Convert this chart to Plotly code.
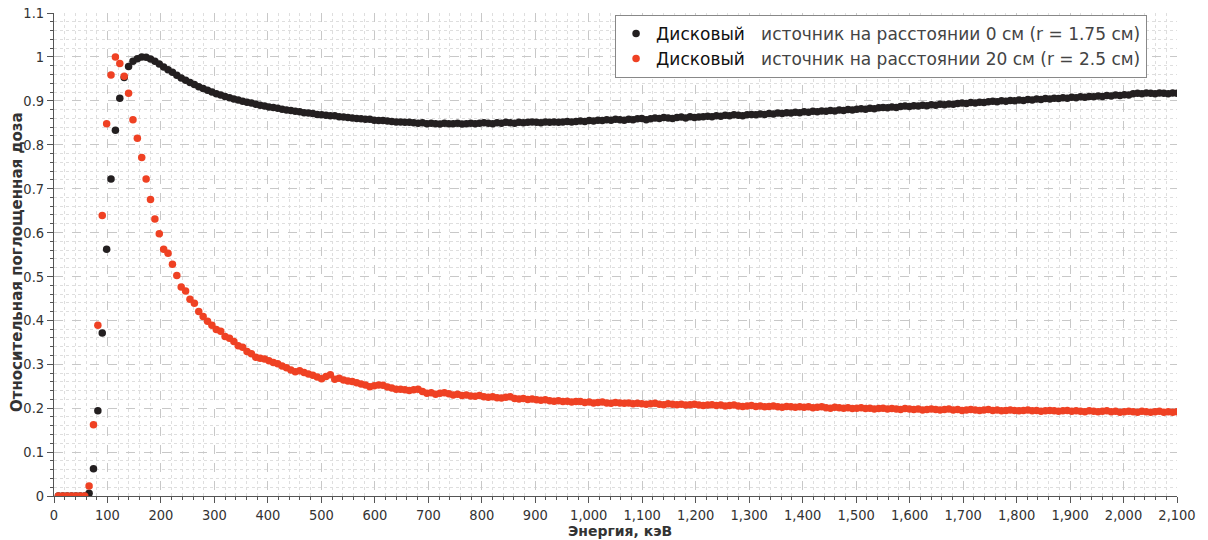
import plotly.graph_objects as go

# Channel grid: 256 channels spanning 0-2100 keV
n_channels = 256
channel_width_kev = 2100 / n_channels
energies_kev = [(i + 1) * channel_width_kev for i in range(n_channels)]

# Disk source at 0 cm (r = 1.75 cm)
dose_0cm = [
    0, 0, 0, 0, 0, 0, 0, 0.006, 0.062, 0.194,
    0.371, 0.562, 0.722, 0.833, 0.906, 0.953, 0.978, 0.990, 0.996, 1.000,
    0.999, 0.995, 0.990, 0.984, 0.977, 0.971, 0.965, 0.958, 0.952, 0.947,
    0.942, 0.937, 0.932, 0.928, 0.924, 0.920, 0.916, 0.913, 0.910, 0.907,
    0.904, 0.902, 0.899, 0.897, 0.895, 0.892, 0.890, 0.888, 0.886, 0.885,
    0.883, 0.881, 0.879, 0.878, 0.876, 0.875, 0.873, 0.872, 0.871, 0.869,
    0.868, 0.867, 0.866, 0.866, 0.864, 0.863, 0.862, 0.861, 0.860, 0.859,
    0.858, 0.858, 0.856, 0.855, 0.855, 0.854, 0.853, 0.852, 0.852, 0.851,
    0.851, 0.850, 0.849, 0.850, 0.848, 0.849, 0.848, 0.847, 0.849, 0.848,
    0.848, 0.849, 0.847, 0.848, 0.849, 0.848, 0.849, 0.850, 0.849, 0.848,
    0.850, 0.849, 0.851, 0.850, 0.849, 0.851, 0.850, 0.851, 0.852, 0.851,
    0.850, 0.852, 0.851, 0.852, 0.851, 0.852, 0.853, 0.852, 0.853, 0.854,
    0.853, 0.855, 0.854, 0.856, 0.855, 0.857, 0.856, 0.858, 0.857, 0.856,
    0.858, 0.857, 0.859, 0.860, 0.857, 0.859, 0.861, 0.860, 0.862, 0.861,
    0.860, 0.862, 0.863, 0.861, 0.864, 0.862, 0.863, 0.864, 0.865, 0.864,
    0.866, 0.865, 0.867, 0.866, 0.868, 0.867, 0.866, 0.868, 0.869, 0.868,
    0.870, 0.869, 0.871, 0.870, 0.872, 0.871, 0.873, 0.872, 0.874, 0.873,
    0.875, 0.874, 0.876, 0.875, 0.877, 0.876, 0.878, 0.877, 0.879, 0.878,
    0.880, 0.879, 0.881, 0.882, 0.881, 0.883, 0.882, 0.884, 0.885, 0.884,
    0.886, 0.885, 0.887, 0.888, 0.887, 0.889, 0.888, 0.890, 0.889, 0.891,
    0.890, 0.892, 0.891, 0.893, 0.892, 0.894, 0.895, 0.894, 0.896, 0.895,
    0.897, 0.896, 0.898, 0.899, 0.898, 0.900, 0.899, 0.901, 0.900, 0.902,
    0.901, 0.903, 0.902, 0.904, 0.903, 0.905, 0.904, 0.906, 0.905, 0.907,
    0.906, 0.908, 0.907, 0.909, 0.908, 0.910, 0.909, 0.911, 0.910, 0.912,
    0.911, 0.913, 0.912, 0.914, 0.913, 0.916, 0.917, 0.916, 0.918, 0.917,
    0.916, 0.918, 0.917, 0.916, 0.918, 0.917,
]

# Disk source at 20 cm (r = 2.5 cm)
dose_20cm = [
    0, 0, 0, 0, 0, 0, 0, 0.023, 0.162, 0.389,
    0.639, 0.848, 0.959, 1.000, 0.985, 0.956, 0.917, 0.857, 0.815, 0.771,
    0.722, 0.675, 0.631, 0.597, 0.562, 0.553, 0.528, 0.502, 0.476, 0.467,
    0.448, 0.439, 0.420, 0.409, 0.398, 0.389, 0.379, 0.375, 0.363, 0.359,
    0.352, 0.342, 0.339, 0.329, 0.324, 0.316, 0.314, 0.312, 0.308, 0.304,
    0.301, 0.296, 0.292, 0.287, 0.283, 0.285, 0.281, 0.278, 0.275, 0.271,
    0.267, 0.272, 0.276, 0.266, 0.268, 0.264, 0.262, 0.261, 0.258, 0.255,
    0.253, 0.249, 0.251, 0.253, 0.252, 0.248, 0.246, 0.243, 0.243, 0.242,
    0.240, 0.242, 0.243, 0.238, 0.234, 0.235, 0.232, 0.234, 0.235, 0.233,
    0.230, 0.232, 0.229, 0.230, 0.228, 0.227, 0.229, 0.226, 0.225, 0.226,
    0.224, 0.223, 0.225, 0.226, 0.222, 0.221, 0.222, 0.220, 0.221, 0.219,
    0.218, 0.219, 0.217, 0.216, 0.217, 0.215, 0.216, 0.214, 0.215, 0.215,
    0.213, 0.214, 0.212, 0.213, 0.214, 0.212, 0.211, 0.213, 0.212, 0.211,
    0.212, 0.210, 0.211, 0.210, 0.209, 0.210, 0.211, 0.209, 0.208, 0.210,
    0.209, 0.208, 0.209, 0.207, 0.208, 0.209, 0.207, 0.206, 0.207, 0.208,
    0.206, 0.207, 0.205, 0.206, 0.207, 0.205, 0.204, 0.205, 0.206, 0.204,
    0.205, 0.203, 0.204, 0.205, 0.203, 0.202, 0.204, 0.203, 0.202, 0.203,
    0.202, 0.203, 0.201, 0.202, 0.203, 0.201, 0.200, 0.202, 0.201, 0.200,
    0.201, 0.199, 0.200, 0.201, 0.199, 0.200, 0.198, 0.199, 0.200, 0.198,
    0.199, 0.198, 0.197, 0.199, 0.198, 0.197, 0.198, 0.196, 0.197, 0.198,
    0.197, 0.196, 0.197, 0.198, 0.196, 0.197, 0.195, 0.196, 0.197, 0.196,
    0.195, 0.196, 0.197, 0.195, 0.196, 0.194, 0.195, 0.196, 0.195, 0.194,
    0.195, 0.196, 0.194, 0.195, 0.193, 0.194, 0.195, 0.194, 0.193, 0.194,
    0.195, 0.193, 0.194, 0.193, 0.192, 0.194, 0.193, 0.192, 0.193, 0.194,
    0.192, 0.193, 0.191, 0.192, 0.193, 0.192, 0.191, 0.193, 0.192, 0.191,
    0.192, 0.193, 0.191, 0.192, 0.191, 0.192,
]

series_names = [
    "<span style='color:#111'>Дисковый</span>\u00a0\u00a0 источник на расстоянии 0 см (r = 1.75 см)",
    "<span style='color:#111'>Дисковый</span>\u00a0\u00a0 источник на расстоянии 20 см (r = 2.5 см)",
]
series_colors = ["#231f20", "#ef4123"]
x_title = "Энергия, кэВ"
y_title = "Относительная поглощенная доза"

FONT = "DejaVu Sans Condensed, DejaVu Sans, sans-serif"
TITLE_FONT = "DejaVu Sans, sans-serif"
LEGEND_FONT = "DejaVu Sans, sans-serif"

fig = go.Figure()
for name, ys, color in zip(series_names, [dose_0cm, dose_20cm], series_colors):
    fig.add_trace(go.Scatter(
        x=energies_kev, y=ys, mode="markers", name=name,
        marker=dict(color=color, size=7.5, line=dict(width=0)),
    ))

axis_common = dict(
    showline=True, linecolor="#555", linewidth=1,
    ticks="outside", ticklen=6, tickcolor="#555", tickwidth=1,
    showgrid=True, gridcolor="#c8c8c8", griddash="dash", gridwidth=1,
    zeroline=False, automargin=False,
    tickfont=dict(family=FONT, size=14.5, color="#333"),
)

fig.update_xaxes(
    range=[0, 2100], dtick=100, tick0=0, tickformat=",d",
    minor=dict(dtick=20, showgrid=True, gridcolor="#dedede", griddash="dot",
               ticks="outside", ticklen=3, tickcolor="#555"),
    **axis_common,
)
fig.update_yaxes(
    range=[0, 1.1], dtick=0.1, tick0=0,
    minor=dict(dtick=0.02, showgrid=True, gridcolor="#dedede", griddash="dot",
               ticks="outside", ticklen=3, tickcolor="#555"),
    **axis_common,
)

# axis titles as annotations for precise placement
fig.add_annotation(
    text=x_title, xref="paper", yref="paper",
    x=(620 - 54) / 1123, y=(496 - 531) / 483, xanchor="center", yanchor="middle",
    showarrow=False,
    font=dict(family=TITLE_FONT, size=14, color="#333", weight="bold"),
)
fig.add_annotation(
    text=y_title, xref="paper", yref="paper",
    x=(17 - 54) / 1123, y=(496 - 262) / 483, xanchor="center", yanchor="middle",
    textangle=-90, showarrow=False,
    font=dict(family=TITLE_FONT, size=15, color="#333", weight="bold"),
)

fig.update_layout(
    width=1208, height=540,
    margin=dict(l=54, r=31, t=13, b=44),
    paper_bgcolor="white", plot_bgcolor="white",
    showlegend=True,
    legend=dict(
        x=0.4996, y=0.996, xanchor="left", yanchor="top",
        bgcolor="white", bordercolor="#888", borderwidth=1,
        font=dict(family=LEGEND_FONT, size=17, color="#444"),
        tracegroupgap=0,
    ),
)

fig.write_html("out.html", config={"displayModeBar": False},
               post_script="document.body.style.margin='0';")
